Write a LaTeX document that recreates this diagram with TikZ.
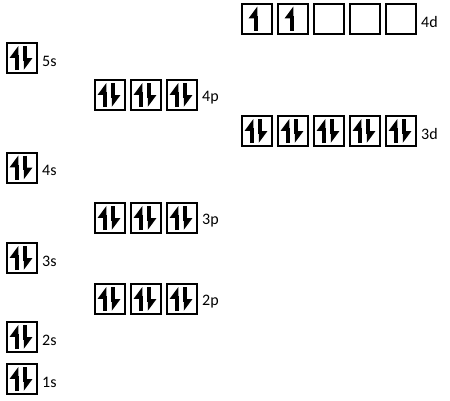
\documentclass[tikz,border=0pt]{standalone}
\usepackage{fontspec}
\setmainfont{Carlito}
\usetikzlibrary{arrows.meta,positioning}

\tikzset{
  orb/.style={draw, line width=2pt, minimum size=30pt, inner sep=0pt},
  spin/.style={line width=3.6pt, -{Triangle[harpoon,length=10pt,width=14pt]}},
  lbl/.style={font=\fontsize{16}{18}\selectfont, inner sep=0pt, anchor=west, yshift=-3pt}
}
% two paired electrons in one box
\newcommand{\pairin}[1]{%
  \draw[spin] ([xshift=-5pt,yshift=4pt]#1.south) -- ([xshift=-5pt,yshift=-4pt]#1.north);
  \draw[spin] ([xshift=3pt,yshift=-4pt]#1.north) -- ([xshift=3pt,yshift=4pt]#1.south);
}
% one unpaired electron
\newcommand{\onein}[1]{%
  \draw[spin] ([xshift=-1pt,yshift=4pt]#1.south) -- ([xshift=-1pt,yshift=-4pt]#1.north);
}

\begin{document}
\begin{tikzpicture}[x=1pt,y=-1pt]
\useasboundingbox (0,0) rectangle (450,400);

% 4d
\foreach \i in {1,...,5} \node[orb] (d4\i) at (221+36*\i,18.5) {};
\onein{d41} \onein{d42}
\node[lbl, right=4pt of d45] (d4lbl) {4d};

% 5s
\node[orb] (s5) at (22,58) {}; \pairin{s5}
\node[lbl, right=4pt of s5] (s5lbl) {5s};

% 4p
\foreach \i in {1,2,3} {\node[orb] (p4\i) at (74+36*\i,95) {}; \pairin{p4\i}}
\node[lbl, right=4pt of p43] (p4lbl) {4p};

% 3d
\foreach \i in {1,...,5} {\node[orb] (d3\i) at (221+36*\i,131) {}; \pairin{d3\i}}
\node[lbl, right=4pt of d35] (d3lbl) {3d};

% 4s
\node[orb] (s4) at (22,167.5) {}; \pairin{s4}
\node[lbl, right=4pt of s4] (s4lbl) {4s};

% 3p
\foreach \i in {1,2,3} {\node[orb] (p3\i) at (74+36*\i,218) {}; \pairin{p3\i}}
\node[lbl, right=4pt of p33] (p3lbl) {3p};

% 3s
\node[orb] (s3) at (22,258) {}; \pairin{s3}
\node[lbl, right=4pt of s3] (s3lbl) {3s};

% 2p
\foreach \i in {1,2,3} {\node[orb] (p2\i) at (74+36*\i,299) {}; \pairin{p2\i}}
\node[lbl, right=4pt of p23] (p2lbl) {2p};

% 2s
\node[orb] (s2) at (22,337) {}; \pairin{s2}
\node[lbl, right=4pt of s2] (s2lbl) {2s};

% 1s
\node[orb] (s1) at (22,379) {}; \pairin{s1}
\node[lbl, right=4pt of s1] (s1lbl) {1s};
\end{tikzpicture}
\end{document}
